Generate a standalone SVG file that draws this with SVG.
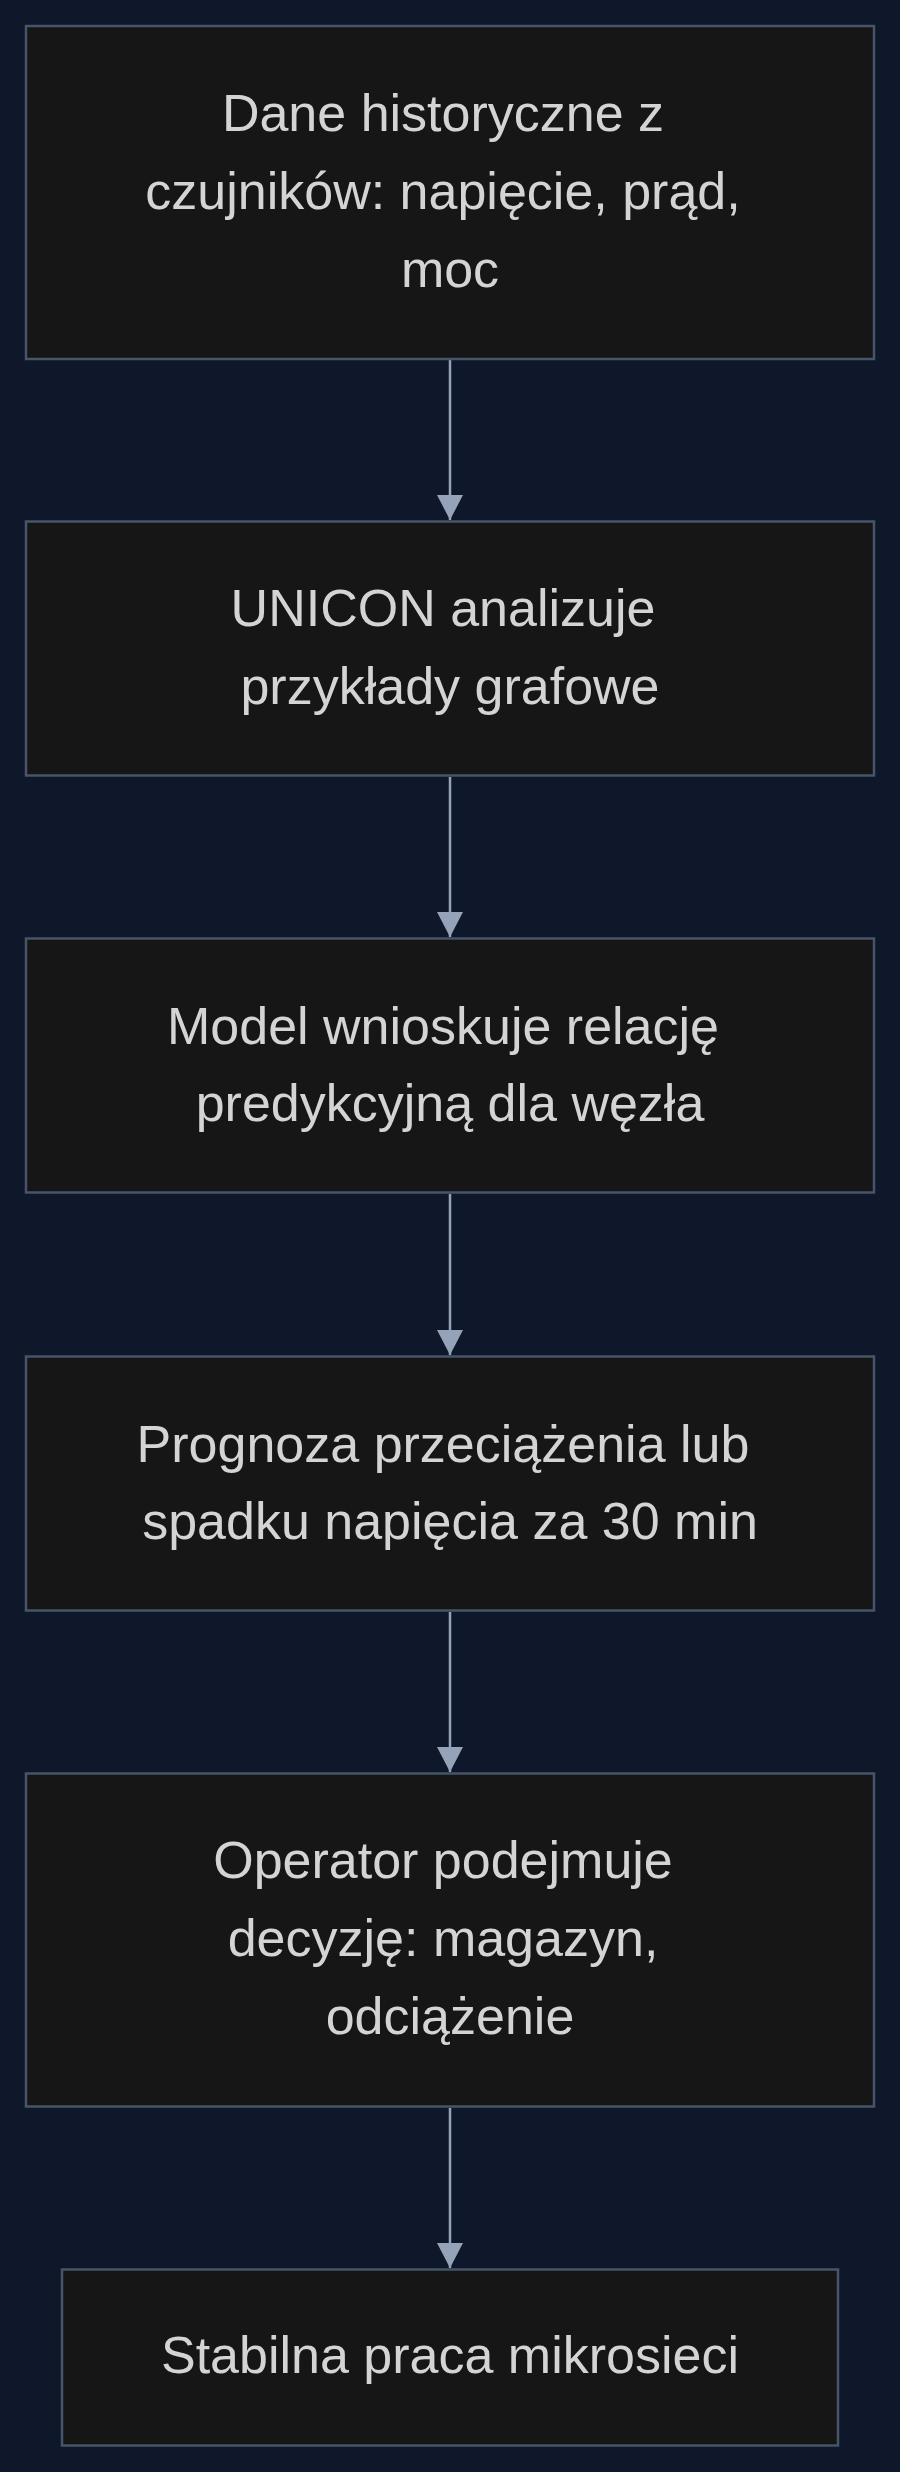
<svg xmlns="http://www.w3.org/2000/svg" width="900" height="2472" viewBox="0 0 900 2472">
<style>
.node rect{fill:#161616;stroke:#475569;stroke-width:2.5}
.node text{font-family:"Liberation Sans",Arial,sans-serif;font-size:52px;fill:#d4d4d4;text-anchor:middle}
.edge{stroke:#94a3b8;stroke-width:2.5;fill:none}
</style>
<defs>
<marker id="arr" markerUnits="userSpaceOnUse" markerWidth="26" markerHeight="28" viewBox="0 0 26 28" refX="25" refY="14" orient="auto">
<path d="M0,1 L25,14 L0,27 z" fill="#94a3b8"/>
</marker>
</defs>
<rect x="0" y="0" width="900" height="2472" fill="#0f172a"/>
<g id="connectors">
<line class="edge" x1="450" y1="360" x2="450" y2="520" marker-end="url(#arr)"/>
<line class="edge" x1="450" y1="777" x2="450" y2="937" marker-end="url(#arr)"/>
<line class="edge" x1="450" y1="1194" x2="450" y2="1355" marker-end="url(#arr)"/>
<line class="edge" x1="450" y1="1612" x2="450" y2="1772" marker-end="url(#arr)"/>
<line class="edge" x1="450" y1="2108" x2="450" y2="2268" marker-end="url(#arr)"/>
</g>
<g id="n1" class="node">
<rect x="26" y="26" width="848" height="333"/>
<text x="443" y="130.5">Dane historyczne z</text>
<text x="443" y="208.5">czujników: napięcie, prąd,</text>
<text x="450" y="286.5">moc</text>
</g>
<g id="n2" class="node">
<rect x="26" y="521.5" width="848" height="254"/>
<text x="443" y="626">UNICON analizuje</text>
<text x="450" y="703.5">przykłady grafowe</text>
</g>
<g id="n3" class="node">
<rect x="26" y="938.5" width="848" height="254"/>
<text x="443" y="1043.5">Model wnioskuje relację</text>
<text x="450" y="1121">predykcyjną dla węzła</text>
</g>
<g id="n4" class="node">
<rect x="26" y="1356.5" width="848" height="254"/>
<text x="443" y="1461.5">Prognoza przeciążenia lub</text>
<text x="450" y="1539">spadku napięcia za 30 min</text>
</g>
<g id="n5" class="node">
<rect x="26" y="1773.5" width="848" height="333"/>
<text x="443" y="1878">Operator podejmuje</text>
<text x="443" y="1956">decyzję: magazyn,</text>
<text x="450" y="2034">odciążenie</text>
</g>
<g id="n6" class="node">
<rect x="62" y="2269.5" width="776" height="176"/>
<text x="450" y="2373">Stabilna praca mikrosieci</text>
</g>
</svg>
